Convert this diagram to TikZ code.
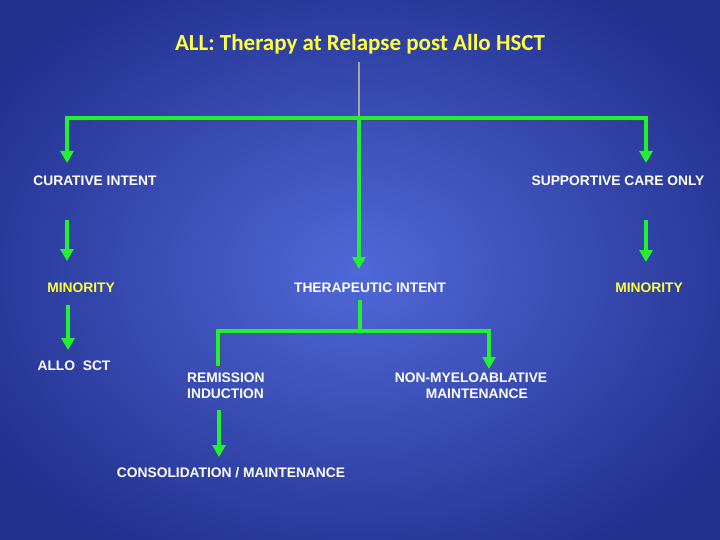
\documentclass[tikz,border=0pt]{standalone}
\usepackage{fontspec}
\setmainfont{Liberation Sans}
\newfontfamily\titlefont{Carlito}
\usetikzlibrary{arrows.meta}
\definecolor{bgin}{HTML}{5068D8}
\definecolor{bgout}{HTML}{22308E}
\definecolor{grn}{HTML}{22F030}
\definecolor{ttl}{HTML}{FFFF40}
\begin{document}
\begin{tikzpicture}[x=1pt,y=-1pt,
  lbl/.style={text=white,font=\fontsize{13.8}{16}\selectfont\bfseries,inner sep=0pt,align=center},
  ylbl/.style={lbl,text=ttl},
  conn/.style={draw=grn,line width=3.5pt},
  arr/.style={conn,-{Triangle[width=13pt,length=12pt]}},
  shadow/.style={draw=black!70,line width=3.5pt,opacity=0.5}]
\useasboundingbox (0,0) rectangle (720,540);
\begin{scope}
\clip (0,0) rectangle (720,540);
\shade[inner color=bgin,outer color=bgout] (-80,-60) rectangle (800,600);
\end{scope}
\node[text=ttl,font=\titlefont\fontsize{23}{26}\selectfont\bfseries] (title) at (360,44) {ALL: Therapy at Relapse post Allo HSCT};
\node[lbl] (cur) at (95,181) {CURATIVE INTENT};
\node[lbl] (sup) at (618,181) {SUPPORTIVE CARE ONLY};
\node[ylbl] (min1) at (81,288) {MINORITY};
\node[lbl] (ther) at (370,288) {THERAPEUTIC INTENT};
\node[ylbl] (min2) at (649,288) {MINORITY};
\node[lbl] (allo) at (74,366) {ALLO\ \ SCT};
\node[lbl,align=left,anchor=west] (rem) at (187,386) {REMISSION\\INDUCTION};
\node[lbl] (nma) at (471,386) {NON-MYELOABLATIVE\\\ \ \ MAINTENANCE};
\node[lbl] (cons) at (231,473) {CONSOLIDATION / MAINTENANCE};
\coordinate (top) at (359,62);
\coordinate (hub) at (359,118);
\coordinate (hub2) at (360,331);
\draw[gray!70,line width=1.5pt] (top) -- (hub);
\begin{scope}[shift={(1.5,1.5)}]
\draw[shadow] (67,162) -- (67,118) -- (646,118) -- (646,160);
\draw[shadow] (218,365) -- (218,331) -- (489,331) -- (489,366);
\end{scope}
\draw[conn] (67,118) -- (646,118);
\draw[arr] (67,116.25) -- (67,163);
\draw[arr] (hub) -- (359,269);
\draw[arr] (646,116.25) -- (646,163);
\draw[arr] (67,220) -- (67,261);
\draw[arr] (646,220) -- (646,262);
\draw[arr] (68,305) -- (68,350);
\draw[conn] (360,300) -- (hub2);
\draw[conn] (218,331) -- (489,331);
\draw[conn] (218,329.25) -- (218,366);
\draw[arr] (489,329.25) -- (489,369);
\draw[arr] (219,410) -- (219,457);
\end{tikzpicture}
\end{document}
